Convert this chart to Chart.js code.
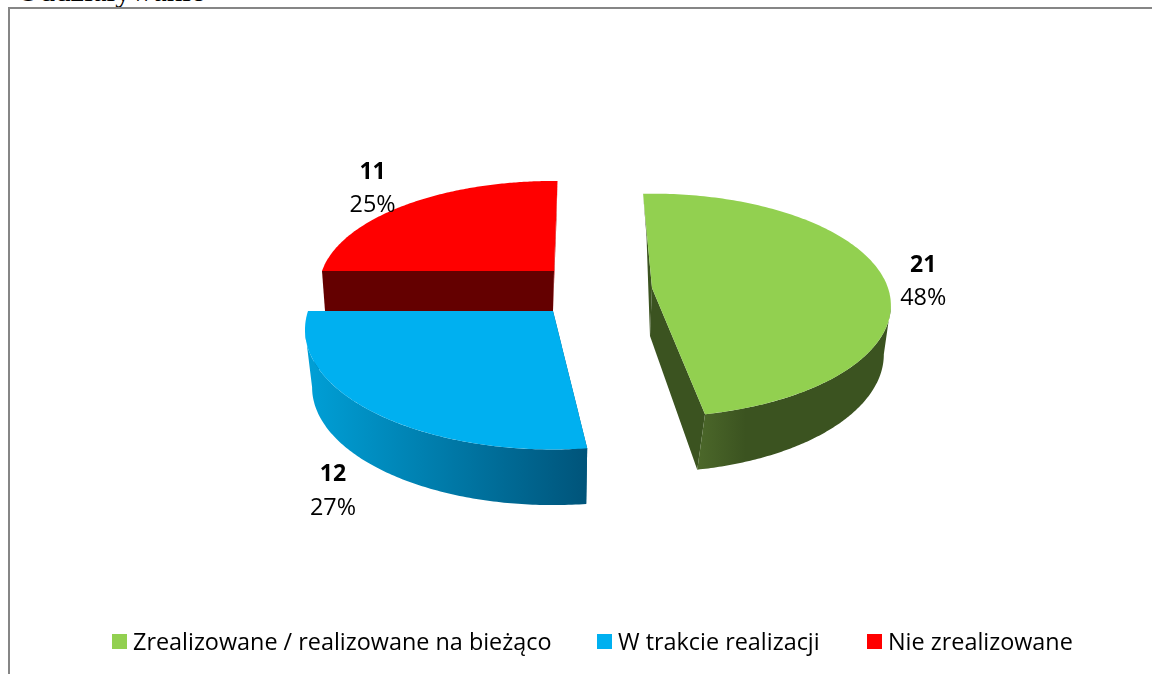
<!DOCTYPE html>
<html>
<head>
<meta charset="utf-8">
<title>Oddziaływanie</title>
<script src="https://cdn.jsdelivr.net/npm/chart.js@4"></script>
<style>
  html, body { margin: 0; padding: 0; background: #fff; overflow: hidden; }
  #wrap { position: relative; width: 1152px; height: 674px; overflow: hidden; }
  #frame { position: absolute; left: 8px; top: 7px; width: 1200px; height: 800px; border: 2px solid #868686; box-sizing: border-box; }
  #heading { position: absolute; left: 17px; top: -27px; font: 31px "Liberation Serif", serif; color: #000; white-space: nowrap; }
  #chart { position: absolute; left: 0; top: 0; }
  #legend { position: absolute; left: 112px; top: 627px; height: 30px; font: 23.4px "Open Sans", sans-serif; color: #000; white-space: nowrap; }
  #legend span.item { position: absolute; top: -1px; line-height: 30px; }
  #legend i { position: absolute; top: 7px; width: 15px; height: 15px; }
</style>
</head>
<body>
<div id="wrap">
  <div id="heading">Oddziaływanie</div>
  <div id="frame"></div>
  <canvas id="chart" width="1152" height="674"></canvas>
  <div id="legend"></div>
</div>
<script>
const categories = ["Zrealizowane / realizowane na bieżąco", "W trakcie realizacji", "Nie zrealizowane"];
const counts = [21, 12, 11];
const topColors = ["#92D050", "#00B0F0", "#FF0000"];

// where each slice sits on the page. the source is a fake-perspective pie so every slice is different
const sliceShapes = [
  { top: { cx: 652, cy: 288, rx: 236, ry: 109 }, bottom: { cx: 650, cy: 336, rx: 231, ry: 115 },
    startNudge: -2.5, endNudge: -2.8, bottomStartNudge: 1.5, bottomEndNudge: 1, face: "#3B5320",
    rimStops: [[0, "#4C682A"], [0.25, "#3B5320"], [1, "#3B5320"]], labelShift: [41, -10] },
  { top: { cx: 553, cy: 311, rx: 245, ry: 117 }, bottom: { cx: 553, cy: 369, rx: 238, ry: 115 },
    startNudge: 1.4, endNudge: 0, bottomStartNudge: 0, bottomEndNudge: 0, face: "#00547A",
    rimStops: [[0, "#00A0D7"], [1, "#00547A"]], labelShift: [-36, 65] },
  { top: { cx: 554, cy: 271, rx: 232, ry: 104 }, bottom: { cx: 553, cy: 311, rx: 228, ry: 104 },
    startNudge: 0, endNudge: 1, bottomStartNudge: 0, bottomEndNudge: 0, face: "#640000", sideFace: "#C00000",
    rimStops: null, labelShift: [-35, -32] }
];
const drawOrder = [2, 0, 1];
const PERSPECTIVE = 0.155;

// angle is clockwise from north, in radians
function project(ring, angle) {
  const x = Math.sin(angle), y = -Math.cos(angle);
  const w = 1 / (1 - PERSPECTIVE * y);
  return [ring.cx + ring.rx * x * w, ring.cy + ring.ry * y * w];
}

function fillPoly(ctx, pts, color) {
  ctx.beginPath();
  pts.forEach((p, n) => n ? ctx.lineTo(p[0], p[1]) : ctx.moveTo(p[0], p[1]));
  ctx.closePath();
  ctx.fillStyle = color;
  ctx.fill();
}

function sampleArc(ring, from, to, n) {
  const pts = [];
  for (let s = 0; s <= n; s++) pts.push(project(ring, from + (to - from) * s / n));
  return pts;
}

function sliceAngles(arc, shape) {
  const rad = Math.PI / 180;
  return [arc.startAngle + Math.PI / 2 + shape.startNudge * rad, arc.endAngle + Math.PI / 2 + shape.endNudge * rad];
}

const pie3d = {
  id: "pie3d",
  beforeDatasetsDraw(chart) {
    const ctx = chart.ctx;
    const arcs = chart.getDatasetMeta(0).data;
    const rad = Math.PI / 180;
    const widest = Math.acos(-PERSPECTIVE);
    ctx.save();
    drawOrder.forEach(i => {
      const shape = sliceShapes[i];
      const [a0, a1] = sliceAngles(arcs[i], shape);
      const t = shape.top, b = shape.bottom;
      const c0 = [t.cx, t.cy], c1 = [b.cx, b.cy];
      const a0Low = a0 + shape.bottomStartNudge * rad;
      const a1Low = a1 + shape.bottomEndNudge * rad;

      // cut faces first, the top covers whatever should not show
      fillPoly(ctx, [c0, project(t, a1), project(b, a1Low), c1], shape.sideFace || shape.face);
      fillPoly(ctx, [c0, project(t, a0), project(b, a0Low), c1], shape.face);

      // rim, only the part between the two widest points faces the viewer
      if (shape.rimStops) {
        const lo = Math.max(a0, widest), hi = Math.min(a1, 2 * Math.PI - widest);
        const upper = sampleArc(t, lo, hi, 120);
        const lower = sampleArc(b, lo === a0 ? a0Low : lo, hi === a1 ? a1Low : hi, 120).reverse();
        const xs = upper.concat(lower).map(p => p[0]);
        const grad = ctx.createLinearGradient(Math.min(...xs), 0, Math.max(...xs), 0);
        shape.rimStops.forEach(s => grad.addColorStop(s[0], s[1]));
        fillPoly(ctx, upper.concat(lower), grad);
      }

      // top surface
      fillPoly(ctx, [c0].concat(sampleArc(t, a0, a1, 160)), topColors[i]);
    });
    ctx.restore();
    return false;
  },
  afterDraw(chart) {
    const ctx = chart.ctx;
    const arcs = chart.getDatasetMeta(0).data;
    const total = counts.reduce((a, b) => a + b, 0);
    ctx.save();
    ctx.fillStyle = "#000";
    ctx.textAlign = "center";
    ctx.textBaseline = "middle";
    counts.forEach((v, i) => {
      const shape = sliceShapes[i];
      const [a0, a1] = sliceAngles(arcs[i], shape);
      const p = project(shape.top, (a0 + a1) / 2);
      const x = p[0] + shape.labelShift[0], y = p[1] + shape.labelShift[1];
      ctx.font = "bold 23px 'Open Sans', sans-serif";
      ctx.fillText(String(v), x, y);
      ctx.font = "23.4px 'Open Sans', sans-serif";
      ctx.fillText(Math.round(v / total * 100) + "%", x, y + 33);
    });
    ctx.restore();
  }
};

new Chart(document.getElementById("chart"), {
  type: "pie",
  data: {
    labels: categories,
    datasets: [{ data: counts, backgroundColor: topColors, borderWidth: 0 }]
  },
  options: {
    responsive: false,
    animation: false,
    plugins: { legend: { display: false }, tooltip: { enabled: false } }
  },
  plugins: [pie3d]
});

// legend is plain html, the gap between box and text is tighter than the built in one allows
const legendX = [0, 485, 755];
const legend = document.getElementById("legend");
categories.forEach((name, i) => {
  const box = document.createElement("i");
  box.style.left = legendX[i] + "px";
  box.style.background = topColors[i];
  const text = document.createElement("span");
  text.className = "item";
  text.style.left = legendX[i] + 21 + "px";
  text.textContent = name;
  legend.append(box, text);
});
</script>
</body>
</html>
